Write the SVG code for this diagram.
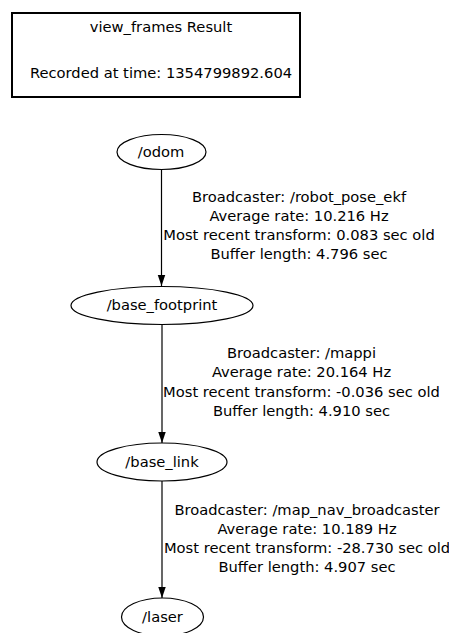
<svg xmlns="http://www.w3.org/2000/svg" width="449" height="633" viewBox="0 0 449 633">
  <style>
    text { font-family: "DejaVu Sans", "Bitstream Vera Sans", sans-serif; font-size: 14.7px; fill: #000; text-anchor: middle; }
    .node ellipse { fill: none; stroke: #000; stroke-width: 1.2; }
    .edge line { stroke: #000; stroke-width: 1.2; }
    .frame { fill: none; stroke: #000; stroke-width: 2; }
  </style>
  <defs>
    <marker id="arrow" viewBox="0 0 10 10" refX="10" refY="5" markerWidth="11" markerHeight="11" markerUnits="userSpaceOnUse" orient="auto">
      <path d="M0,1.6 L10,5 L0,8.4 Z" fill="#000"/>
    </marker>
  </defs>
  <rect width="449" height="633" fill="#fff"/>

  <!-- header box -->
  <g id="header">
    <rect class="frame" x="12" y="13" width="288" height="84"/>
    <text x="161" y="32">view_frames Result</text>
    <text x="161" y="78">Recorded at time: 1354799892.604</text>
  </g>

  <!-- transform edges with their labels -->
  <g id="connectors" class="edge">
    <line x1="161.5" y1="169.5" x2="161.5" y2="286" marker-end="url(#arrow)"/>
    <text x="299" y="202">Broadcaster: /robot_pose_ekf</text>
    <text x="299" y="221">Average rate: 10.216 Hz</text>
    <text x="299" y="240">Most recent transform: 0.083 sec old</text>
    <text x="299" y="259">Buffer length: 4.796 sec</text>

    <line x1="162" y1="324.5" x2="162" y2="443" marker-end="url(#arrow)"/>
    <text x="301.5" y="358">Broadcaster: /mappi</text>
    <text x="301.5" y="377">Average rate: 20.164 Hz</text>
    <text x="301.5" y="396.5">Most recent transform: -0.036 sec old</text>
    <text x="301.5" y="415.5">Buffer length: 4.910 sec</text>

    <line x1="162" y1="481" x2="162" y2="598" marker-end="url(#arrow)"/>
    <text x="307" y="515">Broadcaster: /map_nav_broadcaster</text>
    <text x="307" y="534">Average rate: 10.189 Hz</text>
    <text x="307" y="553">Most recent transform: -28.730 sec old</text>
    <text x="307" y="572">Buffer length: 4.907 sec</text>
  </g>

  <!-- frames -->
  <g id="odom" class="node">
    <ellipse cx="161.5" cy="152" rx="44.5" ry="17.5"/>
    <text x="161" y="157">/odom</text>
  </g>
  <g id="base_footprint" class="node">
    <ellipse cx="162" cy="305.5" rx="91" ry="19"/>
    <text x="162" y="310">/base_footprint</text>
  </g>
  <g id="base_link" class="node">
    <ellipse cx="162" cy="462" rx="65" ry="19"/>
    <text x="162" y="466.5">/base_link</text>
  </g>
  <g id="laser" class="node">
    <ellipse cx="162.5" cy="617" rx="41" ry="19"/>
    <text x="162.5" y="622">/laser</text>
  </g>
</svg>
